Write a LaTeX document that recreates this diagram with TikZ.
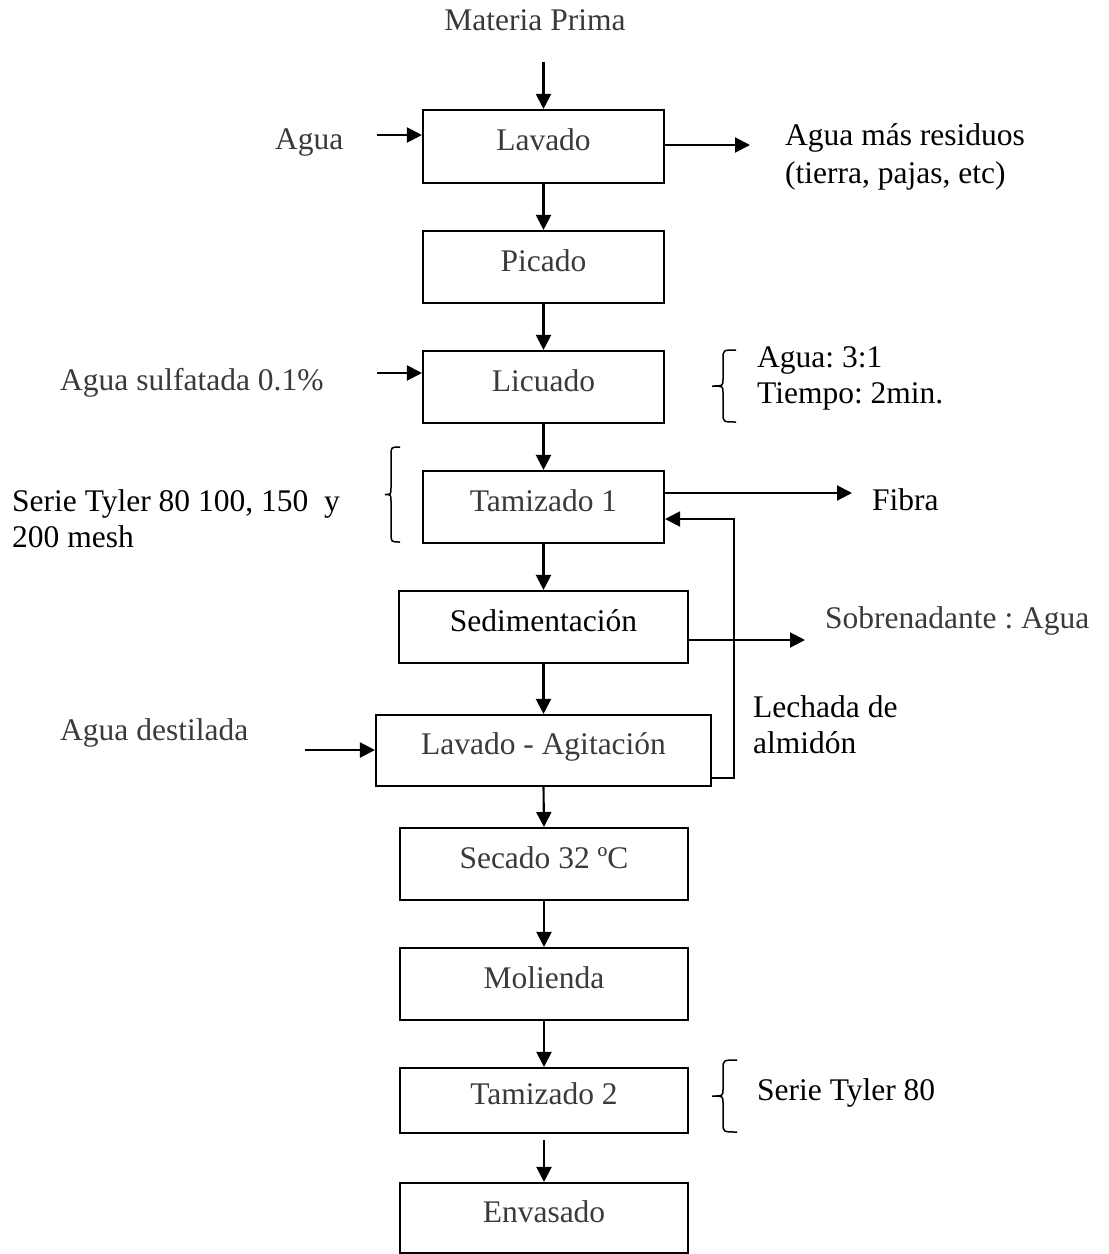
\documentclass[tikz,border=0pt]{standalone}
\usepackage{fontspec}
\setmainfont{Liberation Serif}
\usetikzlibrary{arrows.meta,calc}
\definecolor{tg}{RGB}{58,58,58}
\newcommand\fsz{\fontsize{31.5}{37}\selectfont\frenchspacing}
% brace: tip x, vertical x, end x, top y, bottom y
\newcommand\wbrace[5]{%
  \draw[line width=1.5pt]
    ({#3},{#4}) .. controls ({#2},{#4}) .. ({#2},{#4+9})
    -- ({#2},{(#4+#5)/2-7}) .. controls ({#2},{(#4+#5)/2}) .. ({#1},{(#4+#5)/2})
    .. controls ({#2},{(#4+#5)/2}) .. ({#2},{(#4+#5)/2+7})
    -- ({#2},{#5-9}) .. controls ({#2},{#5}) .. ({#3},{#5});}
\begin{document}
\begin{tikzpicture}[x=1pt,y=-1pt,
  box/.style={draw, line width=2.1pt, rectangle, inner sep=0pt,
    text height=17pt, text depth=9pt, font=\fsz, text=tg},
  arr/.style={line width=2.1pt, -{Triangle[length=15pt,width=15pt]}},
  lbl/.style={font=\fsz, inner sep=0pt, anchor=base west},
  glbl/.style={lbl, text=tg}]
\useasboundingbox (0,0) rectangle (1109,1254);

% boxes
\node[box, minimum width=241pt, minimum height=73pt] (lav) at (543.5,146.5) {Lavado};
\node[box, minimum width=241pt, minimum height=72pt] (pic) at (543.5,267) {Picado};
\node[box, minimum width=241pt, minimum height=72pt] (lic) at (543.5,387) {Licuado};
\node[box, minimum width=241pt, minimum height=72pt] (tam1) at (543.5,507) {Tamizado 1};
\node[box, minimum width=289pt, minimum height=72pt, text=black] (sed) at (543.5,627) {Sedimentación};
\node[box, minimum width=335pt, minimum height=71pt] (lagit) at (543.5,750.5) {Lavado - Agitación};
\node[box, minimum width=288pt, minimum height=72pt] (sec) at (544,864) {Secado 32 ºC};
\node[box, minimum width=288pt, minimum height=72pt] (mol) at (544,984) {Molienda};
\node[box, minimum width=288pt, minimum height=65pt] (tam2) at (544,1100.5) {Tamizado 2};
\node[box, minimum width=288pt, minimum height=70pt] (env) at (544,1218) {Envasado};

% labels
\node[font=\fsz, inner sep=0pt, anchor=base, text=tg] (mp) at (535,30) {Materia Prima};
\node[glbl] (agua) at (275,149) {Agua};
\node[lbl] (amr1) at (785,145) {Agua más residuos};
\node[lbl] (amr2) at (785,183) {(tierra, pajas, etc)};
\node[glbl] (asul) at (60,390) {Agua sulfatada 0.1\%};
\node[lbl] (ag31) at (757,367) {Agua: 3:1};
\node[lbl] (tiem) at (757,403) {Tiempo: 2min.};
\node[lbl] (st1) at (12,511) {Serie Tyler 80 100, 150\ \ y};
\node[lbl] (st2) at (12,547) {200 mesh};
\node[lbl] (fib) at (872,510) {Fibra};
\node[glbl] (sob) at (825,628) {Sobrenadante : Agua};
\node[glbl] (adest) at (60,740) {Agua destilada};
\node[lbl] (lech1) at (753,717) {Lechada de};
\node[lbl] (lech2) at (753,753) {almidón};
\node[lbl] (st80) at (757,1100) {Serie Tyler 80};

% free ends
\coordinate (mpa) at (543.5,62);
\coordinate (al) at (377,135);
\coordinate (lr) at (750,145);
\coordinate (asl) at (377,373);
\coordinate (fe) at (852,493);
\coordinate (sobe) at (805,640);
\coordinate (adl) at (305,750);
\coordinate (fb1) at (734,778);
\coordinate (fb2) at (734,519);

% main flow
\draw[arr] (mpa) -- (lav.north);
\draw[arr] (lav.south) -- (pic.north);
\draw[arr] (pic.south) -- (lic.north);
\draw[arr] (lic.south) -- (tam1.north);
\draw[arr] (tam1.south) -- (sed.north);
\draw[arr] (sed.south) -- (lagit.north);
\draw[arr] (lagit.south) -- (sec.north);
\draw[arr] (sec.south) -- (mol.north);
\draw[arr] (mol.south) -- (tam2.north);
\draw[arr, shorten <=6pt] (tam2.south) -- (env.north);

% side streams
\draw[arr] (al) -- (al -| lav.west);
\draw[arr] (lr -| lav.east) -- (lr);
\draw[arr] (asl) -- (asl -| lic.west);
\draw[arr] (fe -| tam1.east) -- (fe);
\draw[arr] (sobe -| sed.east) -- (sobe);
\draw[arr] (adl) -- (adl -| lagit.west);
\draw[arr] (fb1 -| lagit.east) -- (fb1) -- (fb2) -- (fb2 -| tam1.east);

% braces
\wbrace{712}{723}{736}{350}{422}
\wbrace{385}{391}{400}{447}{542}
\wbrace{712}{723}{737}{1060}{1132}
\end{tikzpicture}
\end{document}
